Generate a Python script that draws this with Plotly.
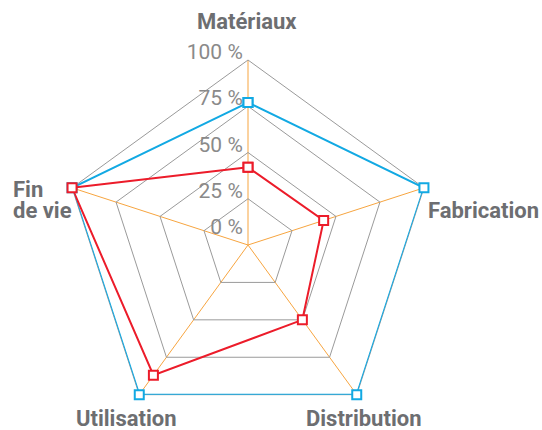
import plotly.graph_objects as go

categories = ["Matériaux", "Fabrication", "Distribution", "Utilisation", "Fin de vie"]
category_labels = ["Matériaux", "Fabrication", "Distribution", "Utilisation", "Fin<br>de vie"]
series_blue = [77, 100, 100, 100, 100]
series_red = [42, 43, 50, 87, 100]
radial_ticks = [0, 25, 50, 75, 100]
radial_tick_labels = ["0 %", "25 %", "50 %", "75 %", "100 %"]

BLUE = "#12a9e3"
RED = "#ec1c2a"
ORANGE = "#f7a540"
GRID = "#9a9a9a"
LABEL = "#6d6e71"
TICK = "#8a8a8a"

W, H = 542, 430

def closed(v):
    return list(v) + [v[0]]

fig = go.Figure()
for vals, col, name in [(series_blue, BLUE, "A"), (series_red, RED, "B")]:
    fig.add_trace(go.Scatterpolar(
        r=closed(vals), theta=closed(categories), mode="lines+markers", name=name,
        line=dict(color=col, width=2),
        marker=dict(symbol="square", size=9, color="white", line=dict(color=col, width=2)),
        cliponaxis=False, showlegend=False, hoverinfo="skip",
    ))

# tick labels sit just above their grid ring (the 0 label a bit higher), as in the reference;
# invisible tiny trailing lines lift the visible 21px text
def lifted(t, n):
    return "<span style='font-size:21px'>%s&#8201;</span>" % t + "<br> " * n

tick_text = [lifted(t, 6 if v == 0 else 1) for t, v in zip(radial_tick_labels, radial_ticks)]

fig.update_layout(
    width=W, height=H, margin=dict(l=0, r=0, t=0, b=0),
    paper_bgcolor="white", plot_bgcolor="white",
    polar=dict(
        domain=dict(x=[63 / W, 433 / W], y=[0, (H - 60) / H]),
        bgcolor="rgba(0,0,0,0)",
        gridshape="linear",
        angularaxis=dict(
            type="category", categoryarray=categories, rotation=90, direction="clockwise",
            showticklabels=False, ticks="", showline=True, linecolor=GRID, linewidth=1,
            showgrid=True, gridcolor=ORANGE, gridwidth=1, layer="below traces",
        ),
        radialaxis=dict(
            range=[0, 100], angle=90, side="counterclockwise", tickangle=90,
            tickvals=radial_ticks, ticktext=tick_text, ticks="",
            showline=False, showgrid=True, gridcolor=GRID, gridwidth=1,
            tickfont=dict(family="Roboto", size=3, color=TICK),
            layer="below traces",
        ),
    ),
)

# (x, y, xanchor, base font size -> line spacing)
label_pos = [
    (247, 22, "center", 22),
    (426, 210, "left", 22),
    (363, 418, "center", 22),
    (126, 418, "center", 22),
    (11, 200, "left", 16.5),
]
for txt, (x, y, xa, fs) in zip(category_labels, label_pos):
    html = "<br>".join("<span style='font-size:22px'><b>%s</b></span>" % p for p in txt.split("<br>"))
    fig.add_annotation(
        x=x / W, y=1 - y / H, xref="paper", yref="paper", text=html,
        showarrow=False, xanchor=xa, yanchor="middle", align="left",
        font=dict(family="Roboto", size=fs, color=LABEL),
    )

fig.write_html("out.html", config={"displayModeBar": False},
               post_script="document.body.style.margin='0';")
